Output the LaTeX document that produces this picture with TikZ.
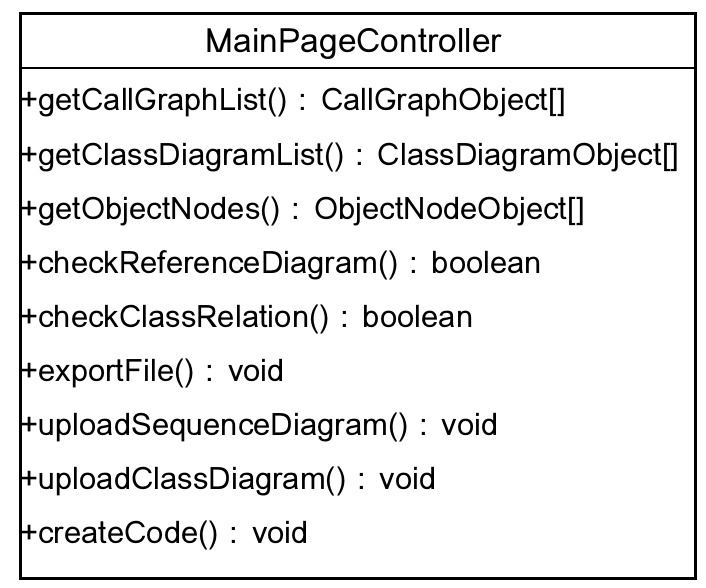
\documentclass[tikz,border=0pt]{standalone}
\usepackage{fontspec}
\newfontfamily\umlfont[Script=Thai]{Loma}
\usetikzlibrary{positioning}
\tikzset{
classbox/.style = {draw, line width=3pt, rectangle, inner sep=0pt},
title/.style = {inner sep=0pt, font=\umlfont\fontsize{33.5}{36}\selectfont},
method/.style = {anchor=west, inner sep=0pt, font=\umlfont\fontsize{31}{33}\selectfont},
sep/.style = {line width=2.5pt}
}

\begin{document}
\begin{tikzpicture}[x=1pt,y=-1pt]
    \useasboundingbox (0,0) rectangle (706,588);
    % We start by placing the box and the title
    \node [classbox, anchor=north west, minimum width=675pt, minimum height=564pt] (box) at (18.5,12.5) {};
    \node [title] (name) at (354,44) {MainPageController};
    \coordinate (sepL) at (18.5,68);
    \coordinate (sepR) at (693.5,68);
    \draw [sep] (sepL) -- (sepR);

    % Then the methods, one per row
    \node [method] (m1) at (20,102) {+getCallGraphList() : CallGraphObject[]};
    \node [method] (m2) at (20,157) {+getClassDiagramList() : ClassDiagramObject[]};
    \node [method] (m3) at (20,211) {+getObjectNodes() : ObjectNodeObject[]};
    \node [method] (m4) at (20,265) {+checkReferenceDiagram() : boolean};
    \node [method] (m5) at (20,319) {+checkClassRelation() : boolean};
    \node [method] (m6) at (20,373) {+exportFile() : void};
    \node [method] (m7) at (20,427) {+uploadSequenceDiagram() : void};
    \node [method] (m8) at (20,481) {+uploadClassDiagram() : void};
    \node [method] (m9) at (20,535) {+createCode() : void};
\end{tikzpicture}
\end{document}
